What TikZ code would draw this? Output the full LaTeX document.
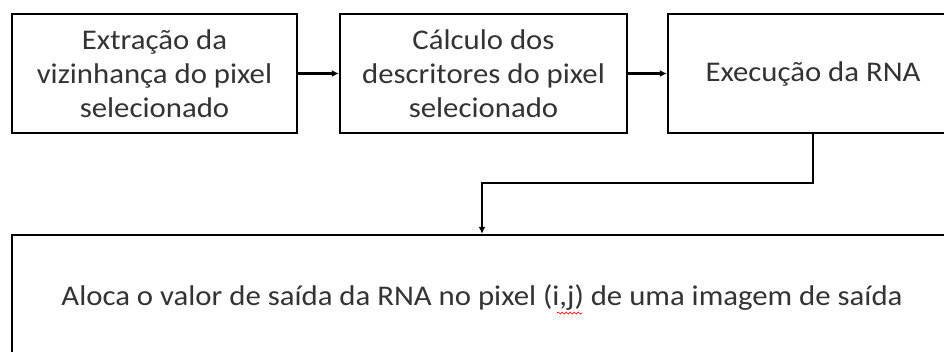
\documentclass[tikz,border=0pt]{standalone}
\usepackage{fontspec}
\setmainfont[FakeStretch=1.08]{Carlito}
\usetikzlibrary{arrows.meta,decorations.pathmorphing}
\definecolor{inkgray}{HTML}{333333}
\tikzset{
  stepbox/.style={draw=black, line width=2.4pt, fill=white, align=center,
    text=inkgray, inner sep=0pt, font=\fontsize{28.5}{34}\selectfont},
  link/.style={line width=2.2pt, -{Latex[length=7pt,width=7pt]}},
}
\begin{document}
\begin{tikzpicture}[x=1pt,y=-1pt]
\useasboundingbox (0,0) rectangle (944,351);
\node[stepbox, minimum width=285pt, minimum height=119pt] (b1) at (154.5,73.5)
  {Extração da\\vizinhança do pixel\\selecionado};
\node[stepbox, minimum width=287pt, minimum height=119pt] (b2) at (483.5,73.5)
  {Cálculo dos\\descritores do pixel\\selecionado};
\node[stepbox, minimum width=290pt, minimum height=119pt] (b3) at (813,73.5)
  {Execução da RNA};
\node[stepbox, minimum width=940pt, minimum height=126pt] (b4) at (482,298)
  {Aloca o valor de saída da RNA no pixel (i,j) de uma imagem de saída};
\coordinate (bend) at (813,183);
\draw[link] (b1.east) -- (b2.west);
\draw[link] (b2.east) -- (b3.west);
\draw[link] (b3.south) -- (bend) -| (b4.north);
% spell-check squiggle under "i,j"
\draw[red, line width=0.7pt, decorate,
  decoration={snake, amplitude=1pt, segment length=4pt}] (557,313) -- (582,313);
\end{tikzpicture}
\end{document}
